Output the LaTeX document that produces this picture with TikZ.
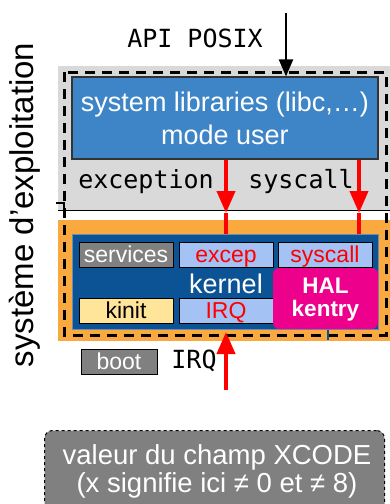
\documentclass[tikz,border=0pt]{standalone}
\usepackage{fontspec}
\setmainfont{Liberation Sans}
\setmonofont{DejaVu Sans Mono}
\usetikzlibrary{arrows.meta}

\definecolor{bggray}{RGB}{217,217,217}
\definecolor{libblue}{RGB}{61,133,198}
\definecolor{kblue}{RGB}{11,83,148}
\definecolor{kborder}{RGB}{110,140,175}
\definecolor{lblue}{RGB}{164,194,244}
\definecolor{lyellow}{RGB}{255,229,153}
\definecolor{korange}{RGB}{250,169,62}
\definecolor{dgray}{RGB}{128,128,128}

\tikzset{
  smallbox/.style={draw=black, line width=1pt, minimum width=94pt, minimum height=25pt,
    inner sep=0pt, text height=16pt, text depth=1pt,
    font=\fontsize{23}{23}\selectfont},
  monotext/.style={inner sep=0pt, anchor=base, font=\ttfamily\fontsize{25}{25}\selectfont},
  haltext/.style={inner sep=0pt, anchor=base, text=white, font=\bfseries\fontsize{22.5}{22.5}\selectfont},
  redarr/.style={draw=red, line width=4pt, -{Triangle[width=18pt,length=22pt]}},
  redline/.style={draw=red, line width=4pt},
  blackarr/.style={draw=black, line width=2.3pt, -{Triangle[width=14pt,length=17pt]}},
  osframe/.style={draw=black, line width=3pt, dash pattern=on 10pt off 7pt}
}

\begin{document}
\begin{tikzpicture}[x=1pt,y=-1pt]
\useasboundingbox (0,0) rectangle (390,504);

% user-space and kernel-space bands
\fill[bggray] (58,66) rectangle (390,210);
\draw[black, line width=1pt] (58,210) -- (390,210);
\fill[korange] (58,220) rectangle (390,341);

% operating-system frame
\draw[osframe] (64,72) rectangle (386,335);
\draw[black, line width=2pt] (56,203) -| (64,209);

% user libraries
\node[draw=black!80, line width=1.2pt, fill=libblue, text=white, minimum width=306pt,
  minimum height=82pt, inner sep=0pt, align=center,
  font=\fontsize{27}{33}\selectfont] (lib) at (225,118)
  {system libraries (libc,…)\\mode user};

% kernel
\node[draw=kborder, line width=1pt, fill=kblue, minimum width=306pt, minimum height=95pt,
  inner sep=0pt] (kernel) at (225,281.5) {};
\node[inner sep=0pt, anchor=base, text=white, font=\fontsize{27}{27}\selectfont]
  (klabel) at (226,293) {kernel};

\node[smallbox, fill=dgray, text=white] (serv) at (126,254.5) {services};
\node[smallbox, fill=lblue, text=red] (excep) at (226,254.5) {excep};
\node[smallbox, fill=lblue, text=red] (sysc) at (325,254.5) {syscall};
\node[smallbox, fill=lyellow, text=black] (kinit) at (126,310.5) {kinit};
\node[smallbox, fill=lblue, text=red] (irq) at (226,310.5) {IRQ};

\node[fill=magenta, rounded corners=6pt, minimum width=105pt, minimum height=61pt,
  inner sep=0pt] (hal) at (325.5,298.5) {};
\node[haltext] (hal1) at (325.5,293.5) {HAL};
\node[haltext] (hal2) at (325.5,316.5) {kentry};

\coordinate (kstub) at (328,340);
\draw[kblue, line width=1.5pt] (kstub |- kernel.south) -- (kstub);

% entry points
\node[monotext] (api) at (195,47) {API POSIX};
\coordinate (apitop) at (286,13);
\draw[blackarr] (apitop) -- (apitop |- lib.north);

\node[monotext] (exlbl) at (146,188) {exception};
\node[monotext] (sclbl) at (301,188) {syscall};

\coordinate (extip) at (226,213);
\draw[redline] (extip) -- (extip |- kernel.north);
\draw[redarr] (extip |- lib.south) -- (extip);

\coordinate (sctip) at (359,213);
\draw[redline] (sctip) -- (sctip |- kernel.north);
\draw[redarr] (sctip |- lib.south) -- (sctip);

% boot and interrupts
\node[draw=black, line width=1pt, fill=dgray, text=white, minimum width=76pt,
  minimum height=25pt, inner sep=0pt, text height=16pt, text depth=1pt,
  font=\fontsize{23}{23}\selectfont] (boot) at (119,361.5) {boot};
\node[monotext] (irqlbl) at (194,368) {IRQ};

\coordinate (irqsrc) at (226,390);
\coordinate (irqtip) at (226,332);
\draw[redarr] (irqsrc) -- (irqtip);

% side title
\node[rotate=90, anchor=base, inner sep=0pt, font=\fontsize{33}{33}\selectfont]
  (os) at (34,205) {système d'exploitation};

% legend
\node[draw=black, line width=1pt, dashed, fill=dgray, rounded corners=8pt,
  minimum width=340pt, minimum height=95pt, anchor=north west, inner sep=0pt]
  (xcode) at (44,430) {};
\node[inner sep=0pt, anchor=base, text=white, font=\fontsize{27.5}{27.5}\selectfont]
  (xl1) at (217,464) {valeur du champ XCODE};
\node[inner sep=0pt, anchor=base, text=white, font=\fontsize{27.5}{27.5}\selectfont]
  (xl2) at (217,492) {(x signifie ici ≠ 0 et ≠ 8)};
\end{tikzpicture}
\end{document}
